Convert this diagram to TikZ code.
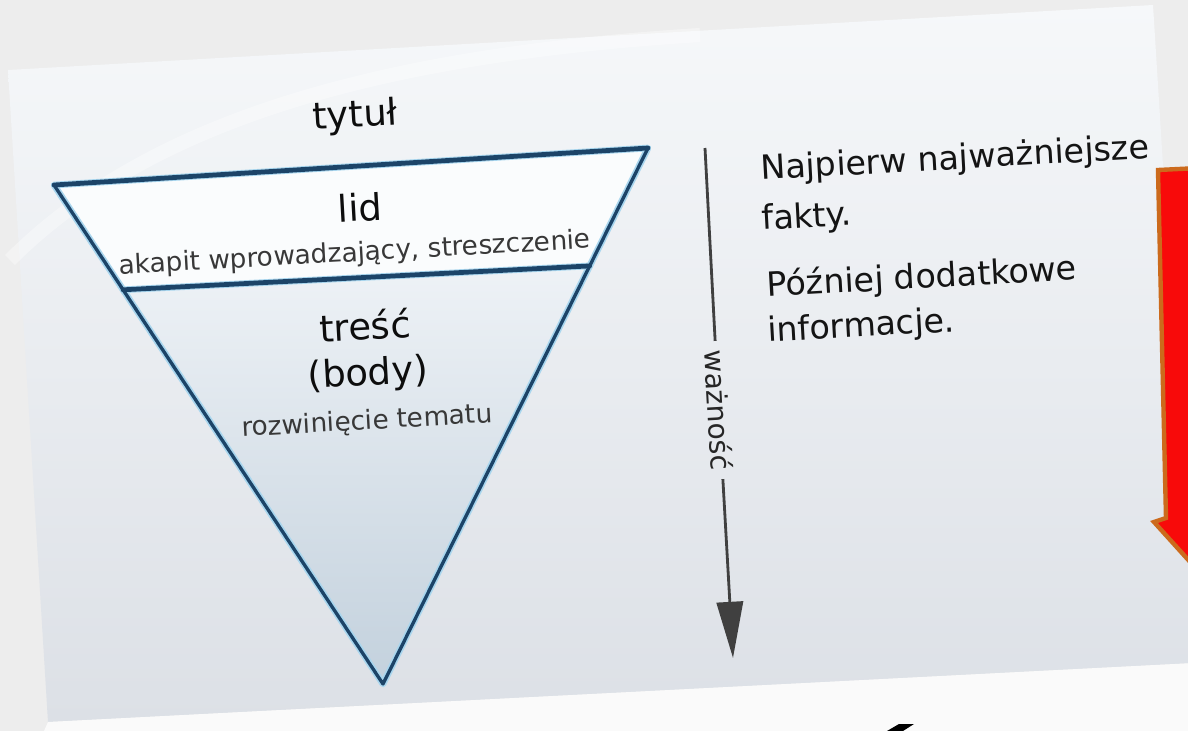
\documentclass[tikz,border=0pt]{standalone}
\usepackage{fontspec}
\setmainfont{DejaVu Sans}
\usetikzlibrary{arrows.meta,calc}

\definecolor{outbg}{HTML}{EDEDED}
\definecolor{paneltop}{HTML}{F6F8FA}
\definecolor{panelbot}{HTML}{DCE0E6}
\definecolor{slideedge}{HTML}{1C4468}
\definecolor{haloblue}{HTML}{A9D6EE}
\definecolor{lidwhite}{HTML}{FAFCFD}
\definecolor{bodytop}{HTML}{EEF2F6}
\definecolor{bodybot}{HTML}{C3D1DD}
\definecolor{arrowred}{HTML}{F80A0A}
\definecolor{arroworange}{HTML}{CC6A1C}

\begin{document}
\begin{tikzpicture}[x=0.02cm, y=-0.02cm,
    bigtext/.style={font=\fontsize{21}{25}\selectfont, text=black!95, rotate=3.2, inner sep=0pt},
    smalltext/.style={font=\fontsize{15}{18}\selectfont, text=black!78, rotate=3.2, inner sep=0pt},
    sidetext/.style={font=\fontsize{19}{23}\selectfont, text=black!92, rotate=3.2, anchor=base west, inner sep=0pt},
    edge/.style={draw=slideedge, line width=1.9pt, line join=round, line cap=round},
    halo/.style={draw=haloblue, line width=3.8pt, line join=round, line cap=round},
    impline/.style={draw=black!75, line width=1.6pt}
]
\useasboundingbox (0,0) rectangle (1188,731);
\clip (0,0) rectangle (1188,731);

% photo background and the tilted slide
\fill[outbg] (0,0) rectangle (1188,731);
\shade[top color=paneltop, bottom color=panelbot] (8,70) -- (1153,5) -- (1194,663) -- (48,722) -- cycle;
\fill[white!98!black] (48,722) -- (1194,663) -- (1194,740) -- (40,740) -- cycle;
\draw[white, line width=8pt, opacity=0.35] (10,260) .. controls (150,120) and (380,55) .. (700,35);

% inverted pyramid
\coordinate (tl) at (54,185);
\coordinate (tr) at (648,148);
\coordinate (bot) at (383,684);
\coordinate (sepL) at ($(tl)!0.21!(bot)$);
\coordinate (sepR) at ($(tr)!0.22!(bot)$);

\shade[top color=bodytop, bottom color=bodybot] (sepL) -- (sepR) -- (bot) -- cycle;
\fill[lidwhite] (tl) -- (tr) -- (sepR) -- (sepL) -- cycle;
\draw[halo] (tl) -- (tr) -- (bot) -- cycle;
\draw[halo] (sepL) -- (sepR);
\draw[edge] (tl) -- (tr) -- (bot) -- cycle;
\draw[edge, line width=2.7pt] (tl) -- (tr);
\draw[edge, line width=2.7pt] (sepL) -- (sepR);

\node[bigtext] (title) at (355,117) {tytuł};
\node[bigtext, text depth=0pt] (lid) at (360,207) {lid};
\node[smalltext] (lidsub) at (355,254) {akapit wprowadzający, streszczenie};
\node[bigtext] (body) at (365,325) {treść};
\node[bigtext] (bodyen) at (368,375) {(body)};
\node[smalltext] (bodysub) at (367,422) {rozwinięcie tematu};

% importance arrow
\coordinate (imptop) at (705,148);
\coordinate (imptip) at (733,658);
\node[font=\fontsize{16}{19}\selectfont, text=black!85, rotate=-86.8, inner xsep=5pt, inner ysep=0pt] (imp) at (719,410) {ważność};
\draw[impline] (imptop) -- (imp.west);
\draw[impline, -{Triangle[length=32pt, width=15pt]}] (imp.east) -- (imptip);

% text on the right
\node[sidetext] (first1) at (761,180) {Najpierw najważniejsze};
\node[sidetext] (first2) at (762,230) {fakty.};
\node[sidetext] (later1) at (767,297) {Później dodatkowe};
\node[sidetext] (later2) at (768,342) {informacje.};

% red block arrow, cut by the photo edge
\draw[fill=arrowred, draw=arroworange, line width=2.5pt, line join=miter]
  (1158,170) -- (1220,167) -- (1220,595) -- (1154,522) -- (1166,518) -- cycle;

% top of a cut-off letter below the slide
\fill[black] (887,731) -- (899,724) -- (914,724) -- (903,731) -- cycle;
\end{tikzpicture}
\end{document}
